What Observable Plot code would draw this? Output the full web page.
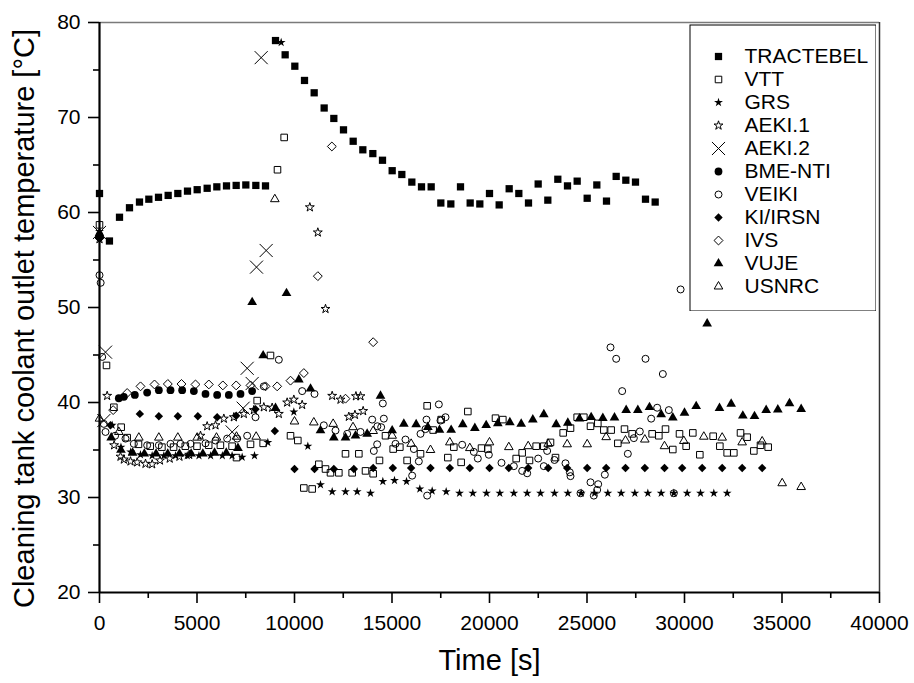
<!DOCTYPE html>
<html><head><meta charset="utf-8">
<script src="https://cdn.jsdelivr.net/npm/d3@7"></script>
<script src="https://cdn.jsdelivr.net/npm/@observablehq/plot@0.6"></script>
<style>
body{margin:0;background:#fff;}
#wrap{position:relative;width:914px;height:683px;}
#wrap svg.legend{position:absolute;left:689px;top:24px;}
</style></head><body><div id="wrap"></div>
<script>
// ---- data: [time s, temperature °C] ----
const tractebel = [[0,62.0],[510,57.0],[1026,59.5],[1538,60.5],[2051,61.1],[2530,61.4],[3026,61.6],[3521,61.8],[4017,62.0],[4513,62.25],[5009,62.4],[5521,62.55],[6017,62.7],[6513,62.8],[7009,62.85],[7504,62.9],[8017,62.85],[8513,62.8],[9026,78.1],[9521,76.6],[10017,75.4],[10513,73.9],[11009,72.6],[11521,71.0],[12017,69.9],[12513,68.7],[13009,67.5],[13504,66.6],[14017,66.2],[14513,65.5],[15009,64.4],[15504,64.0],[16017,63.2],[16513,62.7],[17009,62.7],[17504,61.0],[18017,60.9],[18513,62.7],[19009,61.0],[19504,60.9],[20000,62.0],[20496,60.8],[21009,62.5],[21504,62.0],[22000,61.0],[22496,63.0],[22991,61.3],[23504,63.5],[24000,62.8],[24496,63.3],[25009,61.5],[25504,62.9],[26000,61.2],[26496,63.8],[26991,63.4],[27487,63.2],[28000,61.4],[28496,61.1]];
const vtt = [[0,58.7],[359,43.9],[736,39.5],[1111,37.4],[1419,36.3],[2000,35.6],[2600,35.4],[3200,35.3],[3800,35.3],[4400,35.4],[5000,35.4],[5600,35.5],[6200,35.5],[6800,35.4],[7026,34.2],[7744,35.6],[8085,40.2],[8393,35.7],[8769,44.95],[9128,64.5],[9470,67.9],[9795,36.5],[10170,36.0],[10479,31.0],[10906,30.9],[11248,33.5],[11590,33.0],[11846,32.6],[12274,32.6],[12615,34.6],[12957,32.6],[13299,34.6],[13641,32.8],[14034,32.5],[14359,33.9],[14667,36.5],[15060,35.1],[15402,35.3],[15775,33.9],[16462,34.6],[16803,39.65],[17111,37.1],[17521,38.2],[17863,34.2],[18171,35.3],[18547,33.7],[18889,39.05],[19590,35.2],[19915,35.1],[20308,38.35],[20684,38.2],[21368,34.1],[21675,34.7],[22051,33.9],[22393,35.4],[22786,35.4],[23128,35.8],[23385,34.2],[23778,36.8],[24154,37.3],[24496,38.45],[24838,38.45],[25180,37.5],[25555,37.8],[25863,37.1],[26239,37.1],[26581,35.7],[26923,37.2],[27316,36.7],[28342,36.7],[28684,36.5],[29026,37.2],[29400,35.05],[29744,36.7],[30085,35.4],[30427,36.8],[30786,34.5],[31470,36.45],[31812,35.4],[32188,34.7],[32530,34.7],[32872,36.8],[33214,36.35],[33556,34.9],[33897,35.5],[34291,35.3]];
const grs = [[0,58.0],[650,37.6],[1100,35.3],[1600,34.8],[2100,34.5],[2700,34.4],[3300,34.4],[3900,34.4],[4500,34.4],[5100,34.4],[5700,34.4],[6300,34.4],[6800,34.4],[7316,34.25],[7949,34.4],[8632,35.8],[9316,77.9],[9966,39.0],[10684,35.4],[11333,31.35],[11932,30.6],[12615,30.6],[13214,30.6],[13897,30.45],[14530,31.7],[15128,31.8],[15744,31.7],[16427,30.9],[17060,30.7],[17778,30.6],[18462,30.45],[19145,30.45],[19846,30.45],[20530,30.45],[21248,30.45],[21932,30.45],[22615,30.45],[23333,30.45],[24017,30.45],[24700,30.45],[25384,30.45],[26068,30.45],[26752,30.45],[27453,30.45],[28120,30.45],[28803,30.45],[29453,30.45],[30137,30.45],[30821,30.45],[31504,30.45],[32188,30.45]];
const aeki1 = [[0,57.2],[393,40.7],[750,35.5],[1077,34.3],[1248,34.0],[1590,33.8],[1932,33.7],[2359,33.55],[2701,33.5],[3100,33.9],[3600,34.1],[4100,34.3],[4600,34.5],[5180,36.5],[5521,37.5],[5949,37.6],[6376,38.3],[6889,38.45],[7402,38.8],[7915,39.2],[8427,39.5],[8855,39.45],[9197,38.8],[9624,40.0],[9966,40.3],[10393,39.75],[10786,60.55],[11196,57.9],[11590,49.85],[11932,40.7],[12359,40.3],[12786,38.5],[13100,38.7],[13150,40.66],[13385,40.66],[13521,39.1]];
const aeki2 = [[0,57.9],[222,38.1],[308,45.3],[6803,36.9],[7368,39.4],[7573,43.6],[7829,42.0],[8051,54.25],[8291,76.3],[8547,56.0]];
const bmeNti = [[0,57.6],[991,40.45],[1248,40.6],[1812,40.8],[2444,41.05],[3043,41.3],[3641,41.3],[4239,41.3],[4838,41.2],[5436,40.9],[6034,40.8],[6632,40.8],[7231,40.9],[7829,41.2]];
const veiki = [[0,53.4],[60,52.6],[138,44.8],[222,37.75],[308,36.9],[800,36.5],[1333,36.2],[1761,35.65],[2444,35.5],[3043,35.5],[3641,35.65],[4154,35.65],[4667,35.65],[5436,35.7],[5949,36.0],[6547,36.2],[7060,36.2],[7573,36.5],[8000,38.45],[8427,41.7],[9197,44.5],[10393,41.2],[11026,40.9],[11504,37.6],[12103,37.05],[12701,36.7],[13385,36.9],[13983,38.2],[14068,34.9],[14239,35.6],[14250,37.5],[14444,37.4],[14530,39.9],[14581,38.3],[15180,35.65],[15692,36.1],[16034,32.3],[16120,35.1],[16376,33.8],[16462,36.7],[16718,37.2],[16769,38.2],[16803,30.2],[17402,39.8],[17487,38.1],[17744,38.45],[18598,35.55],[19196,34.8],[19401,34.1],[19966,34.5],[20615,33.65],[21248,33.3],[21675,32.8],[21932,32.55],[22496,34.1],[22786,33.3],[22957,34.9],[23333,33.95],[23897,33.6],[24119,32.65],[24154,32.25],[24667,30.45],[25180,31.6],[25350,30.2],[25521,30.8],[25573,31.4],[25915,32.4],[26205,45.8],[26496,44.6],[26803,41.2],[27094,34.6],[27402,36.25],[27709,36.95],[28000,44.6],[28291,38.3],[28598,39.45],[28889,43.0],[29197,39.2],[29453,30.45],[29800,51.9]];
const kiIrsn = [[0,57.3],[564,37.6],[2068,38.8],[3043,38.55],[4017,38.55],[5043,38.55],[6034,38.45],[7009,38.6],[8000,39.3],[8991,37.0],[10000,33.0],[11026,33.0],[12017,33.0],[13043,33.0],[14034,33.1],[15042,33.1],[15980,33.1],[16974,33.1],[17966,33.1],[18991,33.1],[20000,33.1],[20991,33.1],[21983,33.1],[23009,33.1],[23983,33.1],[25009,33.1],[25983,33.1],[26974,33.1],[27965,33.1],[28974,33.1],[29880,33.1],[30906,33.1],[31932,33.1],[32957,33.1],[33983,33.1]];
const ivs = [[0,57.3],[700,39.2],[1419,41.0],[2103,41.7],[2821,41.9],[3504,41.95],[4205,41.95],[4923,41.9],[5607,41.9],[6325,41.8],[7009,41.8],[7744,41.8],[8513,41.7],[9111,41.7],[9795,42.3],[10479,43.1],[11197,53.3],[11915,66.95],[12615,40.4],[14034,46.35]];
const vuje = [[0,57.8],[600,36.3],[1100,35.0],[1700,34.7],[2300,34.6],[2900,34.6],[3500,34.6],[4100,34.6],[4700,34.6],[5300,34.6],[5900,34.7],[6500,34.7],[7100,35.2],[7829,50.55],[8393,44.95],[9026,39.4],[9590,51.5],[10222,42.4],[10821,41.45],[11333,37.05],[12017,36.3],[12615,36.3],[13128,36.5],[13726,36.7],[14410,40.7],[15009,37.05],[15607,37.75],[16239,37.7],[16838,37.4],[17436,37.1],[18034,37.1],[18628,37.7],[19248,37.3],[19830,37.6],[20427,37.8],[21043,37.9],[21625,37.75],[22222,38.2],[22786,38.75],[23420,37.7],[24017,37.85],[24615,38.3],[25214,38.45],[25812,38.35],[26410,38.4],[27009,39.2],[27607,39.2],[28205,39.5],[28803,38.75],[29400,38.4],[30000,38.9],[30600,39.6],[31162,48.3],[31795,39.4],[32393,39.85],[32991,38.6],[33590,38.55],[34188,39.2],[34786,39.25],[35385,39.9],[35983,39.3]];
const usnrc = [[0,38.3],[991,36.9],[2017,36.3],[3043,36.3],[4017,36.3],[5009,36.3],[5999,36.3],[7026,36.4],[8034,36.4],[8991,61.4],[10000,38.0],[10991,37.9],[11983,37.75],[13000,37.4],[14034,37.0],[15009,36.5],[15983,35.65],[16974,35.0],[17966,35.8],[18991,35.2],[20000,35.8],[20991,35.3],[21983,35.4],[23009,35.65],[23983,35.6],[25009,35.6],[25983,36.35],[26974,36.0],[27965,36.1],[28974,35.4],[29965,35.95],[30991,36.4],[31932,36.3],[32957,35.8],[33983,35.9],[35009,31.5],[35983,31.1]];

const seriesNames = ["TRACTEBEL","VTT","GRS","AEKI.1","AEKI.2","BME-NTI","VEIKI","KI/IRSN","IVS","VUJE","USNRC"];
const seriesData = [tractebel, vtt, grs, aeki1, aeki2, bmeNti, veiki, kiIrsn, ivs, vuje, usnrc];
const xMajorTicks = [0,5000,10000,15000,20000,25000,30000,35000,40000];
const xMinorTicks = [2500,7500,12500,17500,22500,27500,32500,37500];
const yMajorTicks = [20,30,40,50,60,70,80];
const yMinorTicks = [25,35,45,55,65,75];
const xTitle = "Time [s]";
const yTitle = "Cleaning tank coolant outlet temperature [°C]";

// ---- styles per series (symbol, size, filled) ----
const styles = [
  {symbol:"square", r:4.1, filled:true},
  {symbol:"square", r:3.7, filled:false},
  {symbol:"star", r:2.8, filled:true},
  {symbol:"star", r:2.8, filled:false},
  {symbol:"times", r:6.0, filled:false},
  {symbol:"circle", r:3.9, filled:true},
  {symbol:"circle", r:3.5, filled:false},
  {symbol:"diamond2", r:3.8, filled:true},
  {symbol:"diamond2", r:4.0, filled:false},
  {symbol:"triangle", r:3.6, filled:true},
  {symbol:"triangle", r:3.2, filled:false}
];
const font = '"Liberation Sans", Arial, Helvetica, sans-serif';

function dotOpts(st, extra) {
  return Object.assign({
    symbol: st.symbol, r: st.r,
    fill: st.filled ? "black" : "none",
    stroke: st.filled ? "none" : "black",
    strokeWidth: 1
  }, extra);
}

const chart = Plot.plot({
  width: 914, height: 683,
  marginLeft: 99, marginRight: 35, marginTop: 22, marginBottom: 91,
  style: {fontFamily: font, background: "white", color: "black"},
  x: {domain: [0, 40000]},
  y: {domain: [20, 80]},
  marks: [
    Plot.ruleY([80], {stroke: "#7a7a7a", strokeWidth: 1.5}),
    Plot.ruleX([40000], {stroke: "#333", strokeWidth: 1.5}),
    ...seriesData.map((data, i) => Plot.dot(data, dotOpts(styles[i], {x: d => d[0], y: d => d[1]}))),
    Plot.ruleX([0], {stroke: "black", strokeWidth: 2.2}),
    Plot.ruleY([20], {stroke: "black", strokeWidth: 2.2}),
    Plot.axisX(xMajorTicks, {tickSize: 11, tickPadding: 12, strokeWidth: 1.6, fontSize: 21, tickFormat: d => String(d), label: null}),
    Plot.axisX(xMinorTicks, {tickSize: 6, strokeWidth: 1.6, tickFormat: () => "", label: null}),
    Plot.axisY(yMajorTicks, {tickSize: 11, tickPadding: 8, strokeWidth: 1.6, fontSize: 21, tickFormat: d => String(d), label: null}),
    Plot.axisY(yMinorTicks, {tickSize: 6, strokeWidth: 1.6, tickFormat: () => "", label: null}),
    Plot.text([xTitle], {frameAnchor: "bottom", dy: 68, fontSize: 29, textAnchor: "middle", lineAnchor: "middle", text: d => d}),
    Plot.text([yTitle], {frameAnchor: "left", dx: -75, dy: 11, rotate: -90, fontSize: 29, textAnchor: "middle", lineAnchor: "middle", text: d => d})
  ]
});

const legend = Plot.plot({
  width: 187, height: 287, margin: 0,
  style: {fontFamily: font, background: "white", color: "black"},
  x: {domain: [0, 1], range: [29, 55], axis: null},
  y: {type: "point", domain: seriesNames, range: [19, 274], axis: null},
  marks: [
    Plot.frame({stroke: "black", strokeWidth: 1, inset: 0.5}),
    ...seriesNames.map((name, i) => Plot.dot([name], dotOpts(styles[i], {x: () => 0, y: d => d}))),
    Plot.text(seriesNames, {x: () => 1, y: d => d, text: d => d, textAnchor: "start", fontSize: 21})
  ]
});
legend.classList.add("legend");

const wrap = document.getElementById("wrap");
wrap.appendChild(chart);
wrap.appendChild(legend);
</script></body></html>
